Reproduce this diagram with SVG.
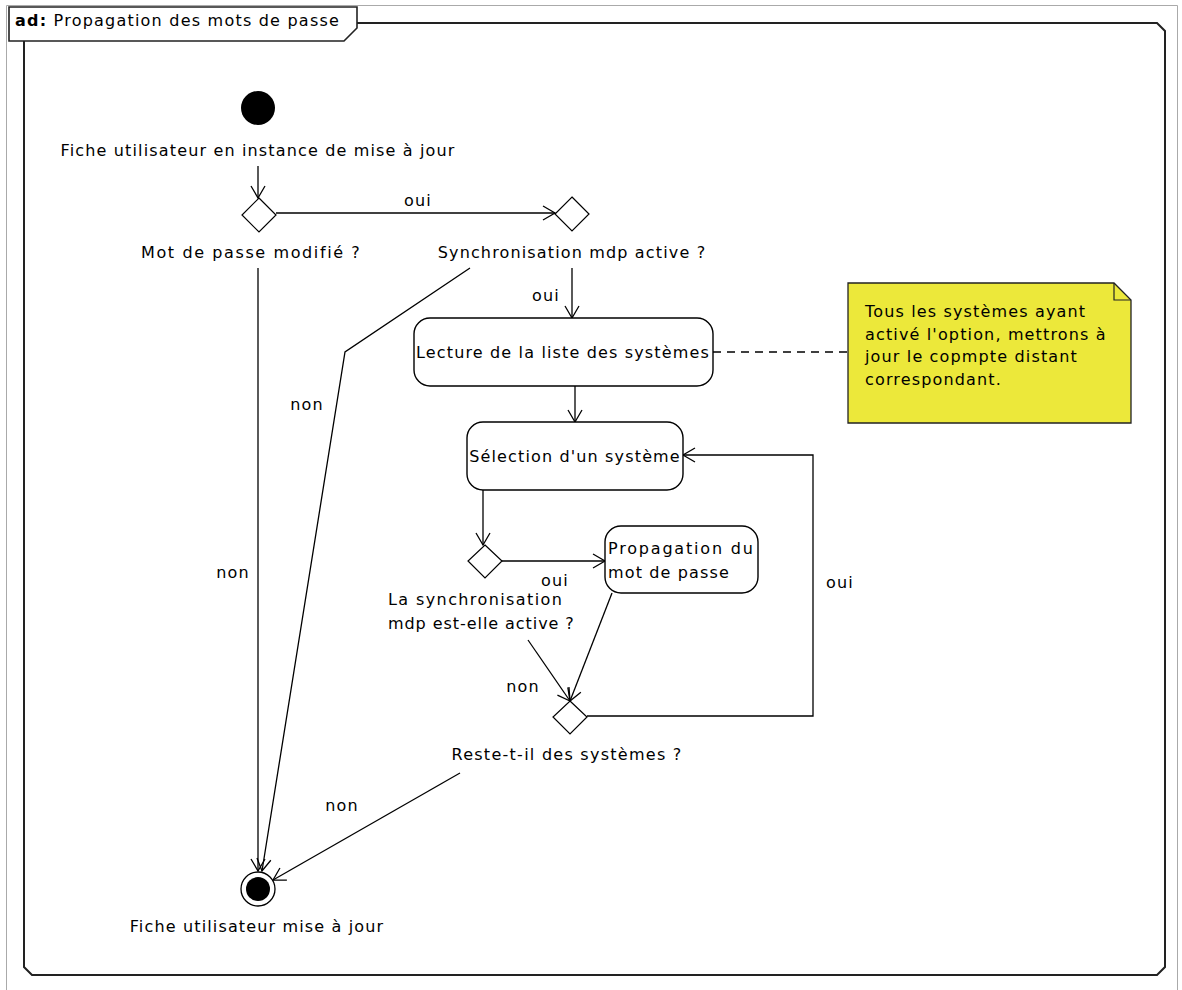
<svg xmlns="http://www.w3.org/2000/svg" width="1182" height="990" viewBox="0 0 1182 990">
<defs>
<style>
text{font-family:"DejaVu Sans","Liberation Sans",sans-serif;font-size:16px;letter-spacing:1.15px;fill:#000}
.c{text-anchor:middle}
.act{fill:#fff;stroke:#000;stroke-width:1.4}
.dec{fill:#fff;stroke:#000;stroke-width:1.2}
.edge{fill:none;stroke:#000;stroke-width:1.3;marker-end:url(#arr)}
.plain{fill:none;stroke:#000;stroke-width:1.3}
</style>
<marker id="arr" markerUnits="userSpaceOnUse" viewBox="-14 -8 16 16" markerWidth="16" markerHeight="16" refX="0" refY="0" orient="auto">
<path d="M-12,-7 L0,0 L-12,7" fill="none" stroke="#000" stroke-width="1.3"/>
</marker>
</defs>
<rect width="1182" height="990" fill="#fff"/>
<path d="M6.5,995 V5.5 H1177.5 V995" fill="none" stroke="#aaa" stroke-width="1"/>
<g id="frame">
<path d="M24,23 H1157 L1165,31 V967 L1157,975 H32 L24,967 Z" fill="none" stroke="#222" stroke-width="2"/>
<path d="M9,7 H357 V28 L344,41 H9 Z" fill="#fff" stroke="#222" stroke-width="1.6"/>
<text x="15" y="26" textLength="325" style="font-size:16px"><tspan font-weight="bold">ad:</tspan> Propagation des mots de passe</text>
</g>
<g id="connectors">
<path class="edge" d="M258,166 V198"/>
<path class="edge" d="M276,213 H555"/>
<path class="edge" d="M572,268 V318"/>
<path class="edge" d="M470,268 L345,352 L262,871"/>
<path class="edge" d="M258,268 V871"/>
<path class="plain" d="M713,352 H848" stroke-dasharray="8,6"/>
<path class="edge" d="M575,386 V422"/>
<path class="edge" d="M483,490 V545"/>
<path class="edge" d="M502,561 H605"/>
<path class="edge" d="M612,593 L570,701"/>
<path class="edge" d="M528,640 L570,701"/>
<path class="edge" d="M587,716 H813 V455 H683"/>
<path class="edge" d="M460,773 L273,880"/>
<text class="c" x="418" y="206">oui</text>
<text class="c" x="546" y="301">oui</text>
<text class="c" x="307" y="410">non</text>
<text class="c" x="233" y="578">non</text>
<text class="c" x="555" y="586">oui</text>
<text class="c" x="523" y="692">non</text>
<text class="c" x="840" y="588">oui</text>
<text class="c" x="342" y="811">non</text>
</g>
<g id="start">
<circle cx="258" cy="108" r="17" fill="#000"/>
<text class="c" x="258" y="156">Fiche utilisateur en instance de mise à jour</text>
</g>
<g id="dec1">
<path class="dec" d="M259,198 L276,215 L259,232 L242,215 Z"/>
<text class="c" x="251" y="258" textLength="220">Mot de passe modifié ?</text>
</g>
<g id="dec2">
<path class="dec" d="M572,197 L589,214 L572,231 L555,214 Z"/>
<text class="c" x="572" y="258">Synchronisation mdp active ?</text>
</g>
<g id="lecture">
<rect class="act" x="414" y="318" width="299" height="68" rx="16" ry="16"/>
<text class="c" x="563" y="358">Lecture de la liste des systèmes</text>
</g>
<g id="note">
<path d="M848,283 H1114 L1131,300 V423 H848 Z" fill="#ECE83A" stroke="#222" stroke-width="1.3"/>
<path d="M1114,283 V300 H1131" fill="none" stroke="#222" stroke-width="1.2"/>
<text x="865" y="317">Tous les systèmes ayant</text>
<text x="865" y="340">activé l'option, mettrons à</text>
<text x="865" y="362">jour le copmpte distant</text>
<text x="865" y="385">correspondant.</text>
</g>
<g id="selection">
<rect class="act" x="467" y="422" width="216" height="68" rx="16" ry="16"/>
<text class="c" x="575" y="462">Sélection d'un système</text>
</g>
<g id="dec3">
<path class="dec" d="M485,545 L502,561 L485,578 L468,561 Z"/>
<text x="388" y="605" textLength="175">La synchronisation</text>
<text x="388" y="629" textLength="187">mdp est-elle active ?</text>
</g>
<g id="propagation">
<rect class="act" x="605" y="526" width="153" height="67" rx="16" ry="16"/>
<text x="608" y="554" textLength="146">Propagation du</text>
<text x="608" y="578" textLength="122">mot de passe</text>
</g>
<g id="dec4">
<path class="dec" d="M570,701 L587,717 L570,734 L553,717 Z"/>
<text class="c" x="567" y="760" textLength="231">Reste-t-il des systèmes ?</text>
</g>
<g id="final">
<circle cx="258" cy="889" r="17" fill="#fff" stroke="#000" stroke-width="1.3"/>
<circle cx="258" cy="889" r="12" fill="#000"/>
<text class="c" x="257" y="932">Fiche utilisateur mise à jour</text>
</g>
</svg>
